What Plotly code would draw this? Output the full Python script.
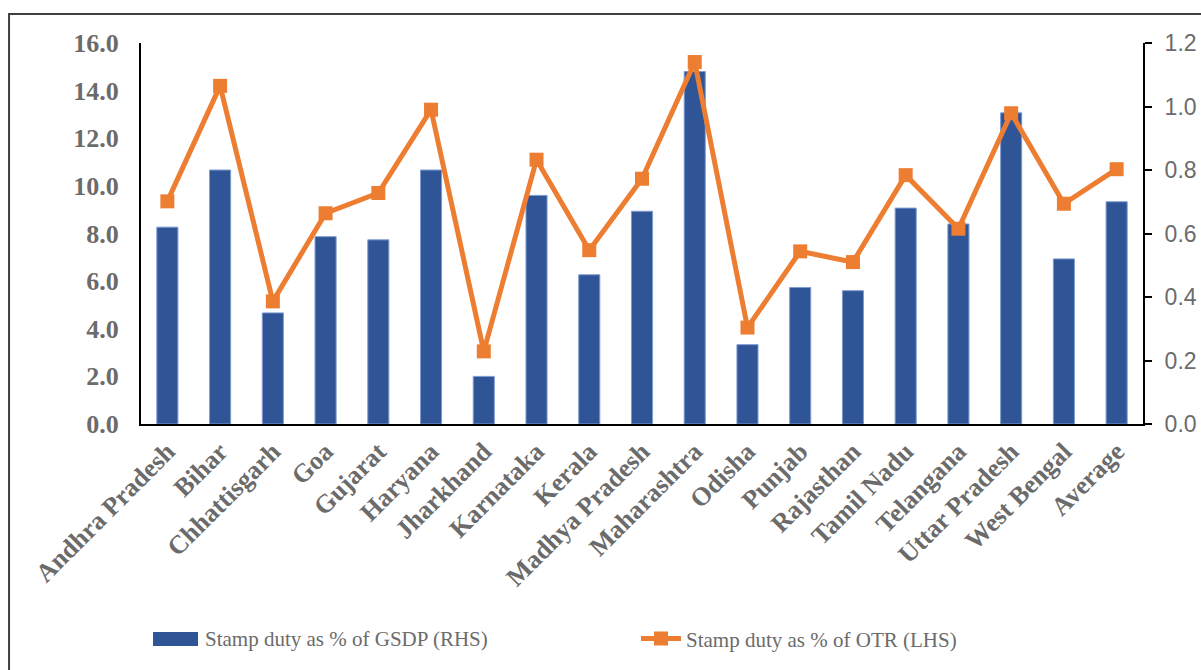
import plotly.graph_objects as go

states = ["Andhra Pradesh", "Bihar", "Chhattisgarh", "Goa", "Gujarat", "Haryana",
          "Jharkhand", "Karnataka", "Kerala", "Madhya Pradesh", "Maharashtra",
          "Odisha", "Punjab", "Rajasthan", "Tamil Nadu", "Telangana",
          "Uttar Pradesh", "West Bengal", "Average"]

# Stamp duty as % of GSDP (right-hand scale)
gsdp_share = [0.62, 0.80, 0.35, 0.59, 0.58, 0.80, 0.15, 0.72, 0.47, 0.67, 1.11,
              0.25, 0.43, 0.42, 0.68, 0.63, 0.98, 0.52, 0.70]

# Stamp duty as % of own tax revenue (left-hand scale)
otr_share = [9.35, 14.2, 5.15, 8.85, 9.7, 13.2, 3.05, 11.1, 7.3, 10.3, 15.2,
             4.05, 7.25, 6.8, 10.45, 8.2, 13.05, 9.25, 10.7]

gsdp_name = "Stamp duty as % of GSDP (RHS)"
otr_name = "Stamp duty as % of OTR (LHS)"

serif = "Liberation Serif"
gray = "#6b6b6b"
bar_blue = "#2F5597"
orange = "#ED7D31"

fig = go.Figure()
fig.add_trace(go.Bar(
    x=states, y=gsdp_share, yaxis="y", name=gsdp_name, showlegend=False,
    marker=dict(color=bar_blue, line=dict(color="#7F9BD0", width=1)),
))
fig.add_trace(go.Scatter(
    x=states, y=otr_share, yaxis="y2", mode="lines+markers", name=otr_name,
    line=dict(color=orange, width=5),
    marker=dict(symbol="square", size=14, color=orange),
))

fig.update_layout(
    width=1201, height=670,
    margin=dict(l=141, r=58, t=43, b=246, autoexpand=False),
    plot_bgcolor="white", paper_bgcolor="white",
    bargap=0.6,
    showlegend=True,
    legend=dict(orientation="h", x=0.494, xanchor="left", y=-0.564, yanchor="middle",
                font=dict(family=serif, size=21, color=gray), itemwidth=40),
    xaxis=dict(range=[-0.5, 18.5], automargin=False, tickangle=-45,
               showline=True, linecolor="black", linewidth=2,
               ticks="", showgrid=False,
               tickfont=dict(family=serif, size=26, color=gray, weight="bold")),
    yaxis=dict(side="right", range=[0, 1.2], dtick=0.2, tickformat=".1f",
               automargin=False,
               showline=True, linecolor="black", linewidth=2, ticks="outside",
               ticklen=7, tickcolor="black", tickwidth=2, showgrid=False,
               zeroline=False, ticklabelstandoff=8,
               tickfont=dict(family="Liberation Sans", size=23, color=gray)),
    yaxis2=dict(side="left", overlaying="y", range=[0, 16], dtick=2, tickformat=".1f",
                automargin=False,
                showline=True, linecolor="black", linewidth=2, ticks="",
                showgrid=False, zeroline=False, ticklabelstandoff=15,
                tickfont=dict(family=serif, size=26, color=gray, weight="bold")),
    shapes=[
        # outer frame
        dict(type="rect", xref="paper", yref="paper",
             x0=-0.1317, x1=1.1, y0=-0.7, y1=1.076,
             line=dict(color="#404040", width=2), layer="below"),
        # legend key for the bar series
        dict(type="rect", xref="paper", yref="paper",
             x0=0.012, x1=0.0569, y0=-0.583, y1=-0.546,
             fillcolor=bar_blue, line=dict(width=0)),
    ],
    annotations=[
        dict(xref="paper", yref="paper", x=0.0619, y=-0.564,
             xanchor="left", yanchor="middle", showarrow=False,
             text=gsdp_name, font=dict(family=serif, size=21, color=gray)),
    ],
)

fig.write_html("out.html")
